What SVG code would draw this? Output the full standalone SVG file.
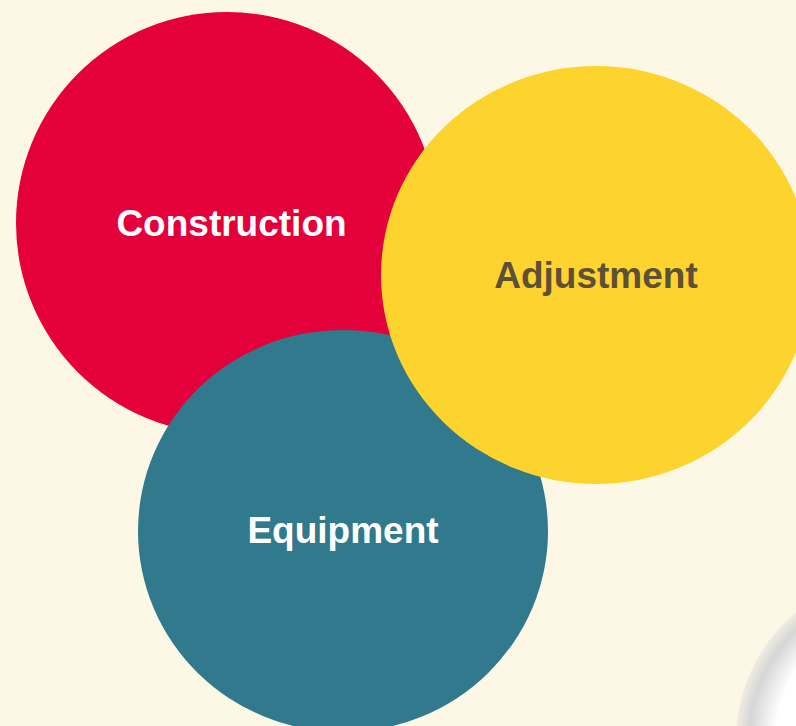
<svg xmlns="http://www.w3.org/2000/svg" width="796" height="726" viewBox="0 0 796 726">
  <defs>
    <radialGradient id="sphere" cx="902" cy="740" r="166" gradientUnits="userSpaceOnUse">
      <stop offset="0" stop-color="#ffffff"/>
      <stop offset="0.76" stop-color="#ffffff"/>
      <stop offset="0.92" stop-color="#d6d6d6"/>
      <stop offset="1" stop-color="#efece3"/>
    </radialGradient>
  </defs>
  <style>
    .lbl { font-family: "Liberation Sans", Arial, sans-serif; font-weight: bold; font-size: 37px; text-anchor: middle; }
    .light { fill: #ffffff; }
    .dark { fill: #5e4f38; }
  </style>
  <rect x="0" y="0" width="796" height="726" fill="#fdf7e6"/>
  <circle cx="902" cy="740" r="166" fill="url(#sphere)"/>
  <g id="construction">
    <circle cx="227" cy="223" r="211" fill="#e4003a"/>
    <text class="lbl light" x="231.5" y="236">Construction</text>
  </g>
  <g id="equipment">
    <ellipse cx="343" cy="531" rx="205" ry="201" fill="#317a8d"/>
    <text class="lbl light" x="343" y="543">Equipment</text>
  </g>
  <g id="adjustment">
    <ellipse cx="596" cy="275" rx="215" ry="209" fill="#fdd32e"/>
    <text class="lbl dark" x="596" y="288">Adjustment</text>
  </g>
  <g id="connectors"/>
</svg>
